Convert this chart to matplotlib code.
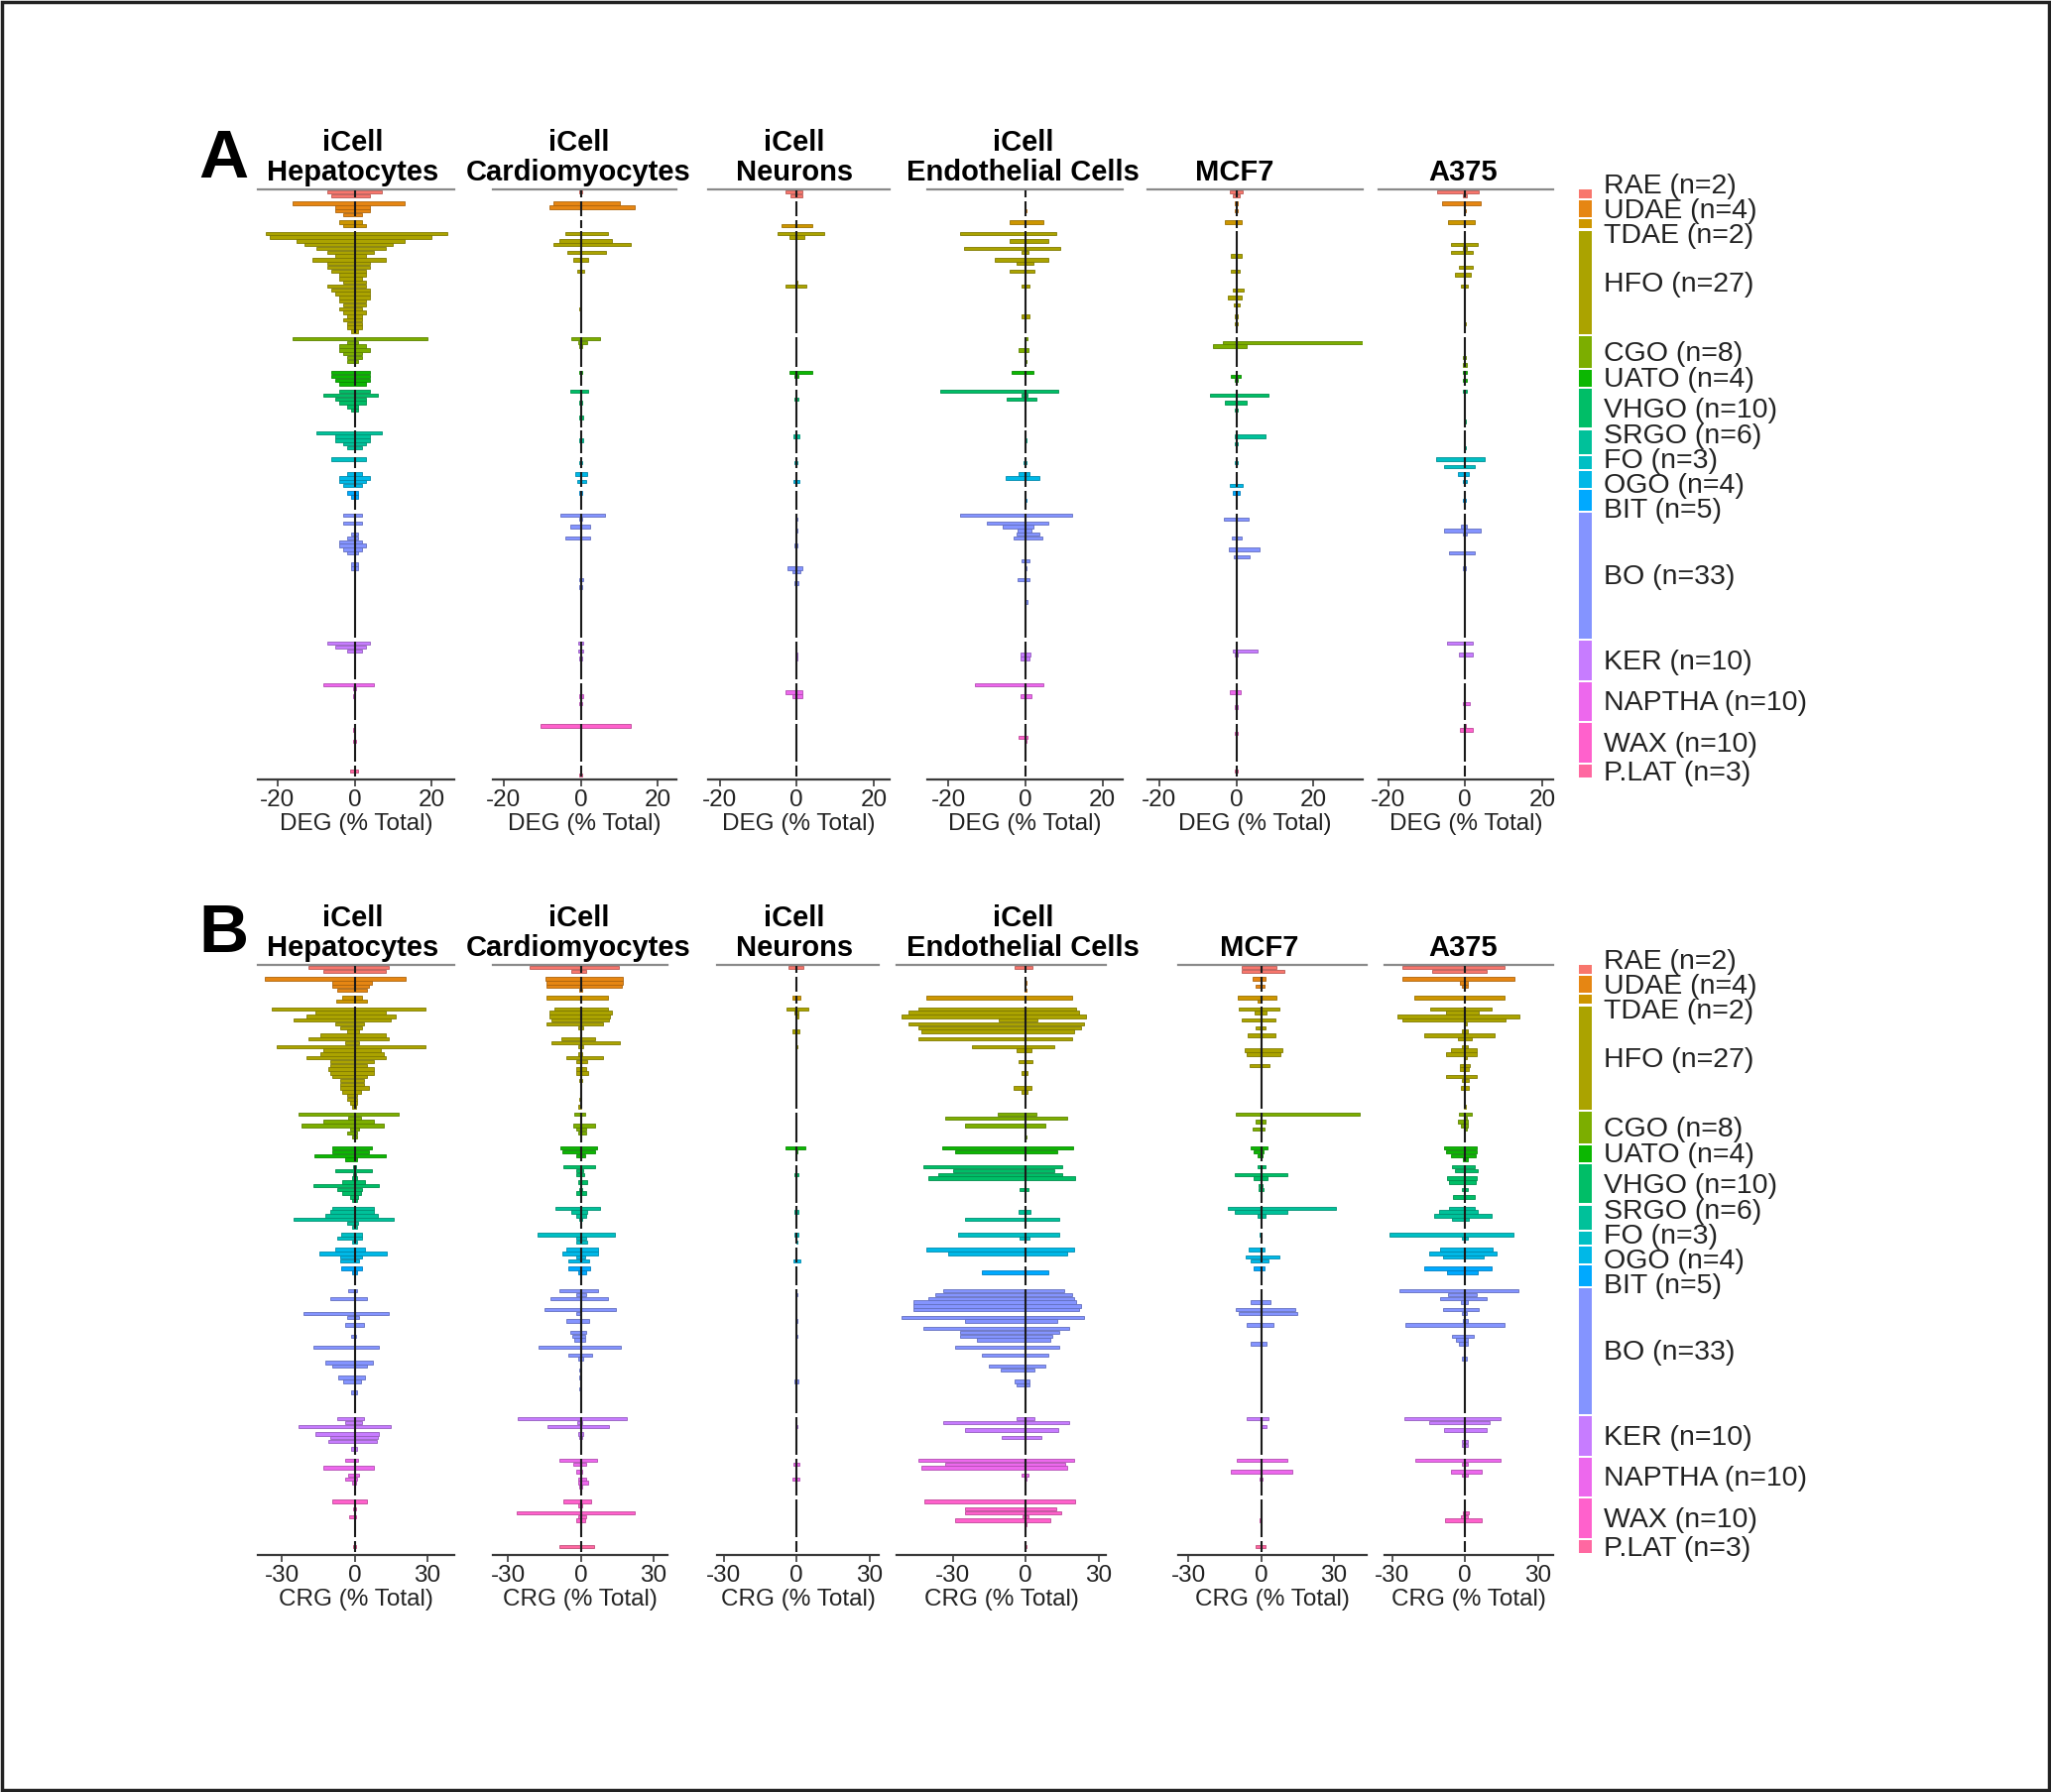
import numpy as np
import matplotlib
matplotlib.use("Agg")
import matplotlib.pyplot as plt
import matplotlib.transforms as mtransforms
from matplotlib.colors import to_rgb
from matplotlib.patches import Rectangle

plt.rcParams["font.family"] = ["Liberation Sans", "DejaVu Sans"]
plt.rcParams["axes.unicode_minus"] = False

# Groups of substances (top to bottom)
groups = ["RAE", "UDAE", "TDAE", "HFO", "CGO", "UATO", "VHGO", "SRGO", "FO",
          "OGO", "BIT", "BO", "KER", "NAPTHA", "WAX", "P.LAT"]
group_n = [2, 4, 2, 27, 8, 4, 10, 6, 3, 4, 5, 33, 10, 10, 10, 3]
group_colors = ["#F8766D", "#E68613", "#CD9600", "#ABA300", "#7CAE00", "#0CB702",
                "#00BE67", "#00C19A", "#00BFC4", "#00B8E7", "#00A9FF", "#8494FF",
                "#C77CFF", "#ED68ED", "#FF61CC", "#FF68A1"]

cell_titles = ["iCell\nHepatocytes", "iCell\nCardiomyocytes", "iCell\nNeurons",
               "iCell\nEndothelial Cells", "MCF7", "A375"]

# (down %, up %) per substance, one inner list per group; missing rows are 0
hep_deg = [[(7, 7), (6, 4)], [(16, 13), (5, 4), (5, 4), (3, 2)], [(4, 2), (3, 3)],
           [(23, 24), (22, 20), (15, 13), (13, 10), (10, 8), (7, 5), (5, 3), (11, 8), (7, 4), (7, 4),
            (6, 3), (4, 3), (4, 2), (3, 3), (7, 3), (6, 4), (5, 4), (4, 4), (4, 3), (3, 3),
            (4, 2), (3, 3), (2, 2), (3, 2), (2, 2), (2, 2), (1, 1)],
           [(16, 19), (2, 1), (4, 3), (4, 4), (3, 2), (2, 2), (2, 1)],
           [(6, 4), (6, 4), (5, 4), (4, 3)],
           [(4, 4), (8, 6), (5, 3), (4, 3), (2, 1), (1, 1)],
           [(10, 7), (5, 4), (5, 4), (3, 3), (2, 2)],
           [(6, 3)],
           [(2, 2), (4, 4), (4, 3), (3, 2)],
           [(2, 1), (1, 1)],
           [(3, 2), (0, 0), (3, 2), (0, 0), (0, 0), (1, 1), (2, 1), (4, 2), (4, 3), (3, 2), (2, 1),
            (0, 0), (0, 0), (1, 1), (1, 1)],
           [(7, 4), (5, 3), (2, 2)],
           [(8, 5), (0.3, 0.3), (0, 0), (0.3, 0)],
           [(0, 0), (0.5, 0), (0, 0), (0, 0), (0.3, 0.3)],
           [(0, 0), (1.2, 0.8)]]

cardio_deg = [[(0.5, 0.3)], [(7, 10), (8, 14)], [],
              [(4, 7), (0, 0), (5.5, 8), (7, 13), (0, 0), (3.5, 6.5), (0, 0), (2, 2), (0, 0), (0, 0),
               (1, 1), (0, 0), (0, 0), (0, 0), (0, 0), (0, 0), (0, 0), (0, 0), (0, 0), (0, 0), (0.5, 0.2)],
              [(2.5, 5), (0.6, 1.7), (0.3, 0.3)],
              [(0.3, 0.3)],
              [(2.6, 1.9), (0, 0), (0, 0), (0.3, 0.3), (0, 0), (0, 0), (0, 0), (0.3, 0.5)],
              [(0, 0), (0, 0), (0.5, 0.5)],
              [(0, 0), (0.3, 0.3)],
              [(1.4, 1.6), (0, 0), (1, 1.5)],
              [(0.3, 0.3)],
              [(5.2, 6.2), (0.5, 0.3), (0, 0), (2.8, 2.3), (0, 0), (0, 0), (4.1, 2.5), (0, 0), (0, 0),
               (0, 0), (0, 0), (0, 0), (0, 0), (0, 0), (0, 0), (0, 0), (0, 0), (0.5, 0.5), (0, 0), (0.3, 0.3)],
              [(0.7, 0.5), (0, 0), (0.7, 0.5), (0, 0), (0.3, 0.3)],
              [(0, 0), (0, 0), (0, 0), (0.5, 0.5), (0, 0), (0.3, 0.3)],
              [(10.5, 13)],
              [(0, 0), (0, 0), (0.3, 0.3)]]

neuro_deg = [[(2.8, 1.4), (1.5, 1.5)], [], [(0, 0), (4, 4)],
             [(5, 7), (2, 2), (0, 0), (0, 0), (0, 0), (0, 0), (0, 0), (0, 0), (0, 0), (0, 0),
              (0, 0), (0, 0), (0, 0), (0.3, 0.3), (3, 2.5)],
             [],
             [(2, 4), (0.5, 0.5)],
             [(0, 0), (0, 0), (0.7, 0.4)],
             [(0, 0), (0.8, 0.8)],
             [(0, 0), (0.5, 0.3)],
             [(0, 0), (0, 0), (0.8, 0.8)],
             [],
             [(0, 0), (0.3, 0.3), (0, 0), (0, 0), (0.4, 0.3), (0, 0), (0, 0), (0, 0), (0.5, 0.2), (0, 0),
              (0, 0), (0, 0), (0, 0), (0, 0), (2.4, 1.4), (1, 1), (0, 0), (0, 0), (0.5, 0.5)],
             [(0, 0), (0, 0), (0, 0), (0.3, 0.3), (0.3, 0.2)],
             [(0, 0), (0, 0), (2.8, 1.4), (1, 1.4)],
             [], []]

endo_deg = [[], [(0, 0), (0, 0), (0.3, 0.3)], [(4, 4.5)],
            [(17, 8), (0, 0), (4, 6), (0, 0), (16, 9), (1, 0.8), (0, 0), (8, 6), (2.4, 2), (0, 0),
             (4, 2.3), (0, 0), (0, 0), (0, 0), (1, 1), (0, 0), (0, 0), (0, 0), (0, 0), (0, 0),
             (0, 0), (0, 0), (1, 1)],
            [(0.3, 0.5), (0, 0), (0, 0), (1.9, 0.8), (0, 0), (0, 0), (0.3, 0.3)],
            [(3.5, 2)],
            [(22, 8.5), (1, 0.5), (5, 2.7)],
            [(0, 0), (0, 0), (0.3, 0.3)],
            [(0, 0), (0.5, 0.3)],
            [(1.8, 1.0), (5.2, 3.5)],
            [(0, 0), (0, 0), (0.3, 0.3)],
            [(17, 12), (0, 0), (10, 6), (6, 2), (2, 1.5), (2.2, 3.5), (3, 4.3), (0, 0), (0, 0), (0, 0),
             (0, 0), (0, 0), (1, 1), (0, 0), (0.3, 0.3), (0, 0), (0, 0), (2, 1), (0, 0), (0, 0),
             (0, 0), (0, 0), (0, 0), (0.3, 0.5)],
            [(0, 0), (0, 0), (0, 0), (1.4, 1.4), (1.4, 1.1)],
            [(13.2, 4.7), (0, 0), (0, 0), (1.4, 1.6)],
            [(0, 0), (0, 0), (0, 0), (1.8, 0.5), (0.3, 0.3)],
            []]

mcf7_deg = [[(1.7, 1.7), (1, 1)], [(0.3, 0.3), (0, 0), (0.3, 0.3)], [(3, 1.5)],
            [(0, 0), (0, 0), (0, 0), (0, 0), (0, 0), (0, 0), (1.5, 1.5), (0, 0), (0, 0), (0, 0),
             (1.5, 0.9), (0, 0), (0, 0), (0, 0), (0, 0), (0.9, 1.8), (0, 0), (2.3, 1.3), (0, 0), (0.6, 0.9),
             (0, 0), (0, 0), (0.3, 0.3), (0, 0), (0.3, 0.3)],
            [(0, 0), (3.5, 33), (6, 2.6)],
            [(0, 0), (1.5, 1.1), (0.5, 0.5)],
            [(0, 0), (6.8, 8.4), (0, 0), (2.9, 2.6), (0, 0), (0.3, 0.3)],
            [(0, 0), (0.3, 7.6), (0, 0), (0.3, 0.3)],
            [(0, 0), (0.3, 0.3)],
            [(0, 0), (0, 0), (0, 0), (1.7, 1.7)],
            [(1, 1)],
            [(0, 0), (3.3, 3.2), (0, 0), (0, 0), (0, 0), (0, 0), (1.1, 1.3), (0, 0), (0, 0), (2, 6.1),
             (0, 0), (0.7, 3.5)],
            [(0, 0), (0, 0), (0.9, 5.5), (0.3, 0.3)],
            [(0, 0), (0, 0), (1.7, 1.1), (0, 0), (0, 0), (0, 0), (0.3, 0.3)],
            [(0, 0), (0, 0), (0.3, 0.3)],
            [(0, 0), (0.5, 0.3)]]

a375_deg = [[(7.3, 3.4), (0.5, 0.5)], [(6, 4), (0, 0), (0.3, 0.2)], [(4.5, 2.6)],
            [(0, 0), (0, 0), (0, 0), (3.8, 3.2), (0.5, 0.5), (3.6, 2.1), (0, 0), (0, 0), (0, 0), (1.7, 1.9),
             (0, 0), (2.6, 1.5), (0, 0), (0, 0), (1, 0.7), (0, 0), (0, 0), (0, 0), (0, 0), (0, 0),
             (0, 0), (0, 0), (0, 0), (0, 0), (0.3, 0.3)],
            [(0, 0), (0, 0), (0, 0), (0, 0), (0, 0), (0.5, 0.3), (0, 0), (0.7, 0.5)],
            [(0.5, 0.5), (0, 0), (0.5, 0.5)],
            [(0.5, 0.5), (0, 0), (0, 0), (0, 0), (0, 0), (0, 0), (0, 0), (0, 0), (0.3, 0.3)],
            [(0, 0), (0, 0), (0, 0), (0, 0), (0.3, 0.3)],
            [(7.5, 5), (0, 0), (5.5, 2.5)],
            [(2, 1), (0, 0), (0.5, 0.5)],
            [(0, 0), (0, 0), (0.5, 0.3)],
            [(0, 0), (0, 0), (0, 0), (1, 0.4), (5.6, 4.1), (0.5, 0.5), (0, 0), (0, 0), (0, 0), (0, 0),
             (4.1, 2.6), (0, 0), (0, 0), (0, 0), (0.5, 0.3)],
            [(4.7, 1.9), (0, 0), (0, 0), (1.5, 1.9)],
            [(0, 0), (0, 0), (0, 0), (0, 0), (0, 0), (0.6, 1.3)],
            [(0.3, 0.3), (1.3, 1.9)],
            []]

hep_crg = [[(19, 14), (12.7, 12.7)], [(37, 21), (9, 7), (9, 6), (7, 5)], [(5, 3.2), (7.6, 5.3)],
           [(34, 29), (16, 13), (20, 17), (25, 15), (8, 4), (6, 3), (3, 2), (14, 13), (19, 14), (4, 2),
            (32, 29), (13, 11), (14, 12), (20, 13), (10, 8), (10, 5), (11, 8), (10, 8), (9, 5), (6, 4),
            (6, 4), (6, 6), (5, 2.5), (3, 1), (3, 1), (2, 1), (1, 0.5)],
           [(23, 18), (2.5, 2.5), (13, 8), (22, 12), (2, 2), (3, 1), (1, 1)],
           [(9, 7), (9, 6), (16.5, 12.7), (4, 1)],
           [(0.5, 0.5), (8, 7), (0.5, 0.5), (1, 1), (5, 4.4), (17, 10), (7, 3), (5, 2.5), (2, 1.5), (1, 1)],
           [(9, 8), (10, 8), (12, 9.5), (25, 16), (3, 1.3), (1, 1)],
           [(5.7, 3.2), (7.3, 3.2), (1, 1)],
           [(8, 4.4), (14.6, 13.3), (6, 3), (6, 2)],
           [(5.7, 3.2), (1, 1)],
           [(2.5, 1), (0, 0), (10, 5), (0, 0), (0, 0), (0, 0), (21, 14), (3.2, 2), (0, 0), (3.8, 3.8),
            (0, 0), (0, 0), (1.5, 0.6), (0, 0), (0, 0), (17, 10), (0, 0), (0, 0), (0, 0), (12, 7.6),
            (9, 5), (0, 0), (0, 0), (6.6, 4.4), (4.8, 2.8), (0, 0), (0, 0), (1.5, 1)],
           [(7, 4), (4, 3), (23, 15), (0, 0), (16, 10), (10, 9.5), (11, 9), (0, 0), (1.3, 1)],
           [(4, 1.5), (0, 0), (13, 8), (0, 0), (2.5, 2), (4, 1), (1, 0.5)],
           [(9, 5), (0, 0), (0.5, 0.5), (0, 0), (2.3, 0.6)],
           [(0, 0), (0.5, 0.5)]]

cardio_crg = [[(21, 15.8), (4, 2.2)], [(14.5, 17.3), (14, 17.3), (14, 17), (0.5, 0.5)], [(14, 11)],
              [(11, 11), (13, 13), (13, 12), (12, 11.5), (14, 9), (1, 1), (0, 0), (0, 0), (8, 6), (12, 16),
               (1, 1), (0, 0), (1, 0.5), (6, 9), (2, 2.5), (0, 0), (2, 2), (2, 3), (0, 0), (0.5, 0.5),
               (0, 0), (0.3, 0.3), (0, 0), (0, 0), (0.5, 0.3), (0, 0), (1, 0.3)],
              [(2.7, 1.6), (0, 0), (0, 0), (3.3, 5.7), (1.7, 2.2), (1.2, 2)],
              [(8.3, 6.5), (7.4, 6), (2, 1.6)],
              [(7, 6), (1.7, 1), (1.7, 1.2), (0, 0), (1.2, 2.5), (0, 0), (0.5, 0.5), (2, 2)],
              [(10.4, 7.8), (4, 2.8), (2, 2.2), (0.5, 0.5)],
              [(17.8, 14), (2, 2.2), (2, 2.8)],
              [(5.8, 7), (7.7, 7), (2, 1.6), (5, 3.5)],
              [(5, 4), (1.2, 2.2)],
              [(9, 7.2), (2, 2.2), (12.6, 11), (0, 0), (0, 0), (15, 14.6), (2, 0), (0, 0), (5.8, 3.5), (0, 0),
               (0, 0), (4.2, 2.2), (3.7, 1.6), (2.5, 1.6), (0, 0), (17.3, 16.4), (0, 0), (5, 4.7), (1.2, 1), (0, 0),
               (0, 0), (0.5, 0.3), (0, 0), (0.5, 0.3), (0, 0), (0, 0), (0.5, 0.3)],
              [(26, 19), (1.5, 0.5), (13.8, 11.5), (0, 0), (1, 1), (0.5, 0.5)],
              [(8.9, 6.5), (3.3, 2.2), (0, 0), (2, 0.7), (0, 0), (1.2, 2), (0.9, 3.2), (0.5, 0.5)],
              [(7, 4.4), (0.9, 0.4), (0, 0), (26.4, 22), (1.2, 2), (1.7, 1.6)],
              [(0, 0), (8.9, 5.3)]]

neuro_crg = [[(3.2, 2.6)], [], [(1.9, 1.5)],
             [(4.1, 4.9), (0.8, 0.5), (0.5, 0.5), (0, 0), (0, 0), (0, 0), (1.9, 1), (0, 0), (0, 0), (0, 0),
              (0.5, 0.3)],
             [],
             [(4.5, 3.6), (0.3, 0.3)],
             [(0, 0), (0, 0), (0.8, 0.5)],
             [(0, 0), (1, 0.8)],
             [(1, 0.8), (0, 0), (0.3, 0.3)],
             [(0, 0), (0, 0), (0, 0), (1.5, 1.5)],
             [],
             [(0, 0), (0.3, 0.3), (0, 0), (0, 0), (0, 0), (0, 0), (0, 0), (0, 0), (0.3, 0.3), (0, 0),
              (0, 0), (0, 0), (0.3, 0.3), (0, 0), (0, 0), (0, 0), (0, 0), (0, 0), (0, 0), (0, 0),
              (0, 0), (0, 0), (0, 0), (0, 0), (0.8, 0.5)],
             [(0, 0), (0, 0), (0.3, 0.3)],
             [(0, 0), (1.3, 1), (0, 0), (0, 0), (0, 0), (1.7, 1)],
             [], []]

endo_crg = [[(4.4, 2.9)], [(0, 0), (0.3, 0.3), (0, 0), (0.3, 0.3)], [(40.7, 19.2)],
            [(44, 21), (48, 22), (51, 25), (11, 5), (48, 24), (44, 23), (43, 20), (0, 0), (44, 19), (0, 0),
             (22, 12), (3.5, 2.3), (0, 0), (0, 0), (3, 2.7), (0, 0), (0, 0), (1.5, 1), (0, 0), (0, 0),
             (0, 0), (5, 2.3), (1.5, 1)],
            [(11.5, 4.5), (33, 17), (0, 0), (25, 8), (0, 0), (0, 0), (0.3, 0.3)],
            [(34.4, 19.6), (29, 13)],
            [(42, 15), (30, 12), (36, 15), (40, 20.5), (0, 0), (0, 0), (2.4, 1.3)],
            [(0, 0), (3, 2), (0, 0), (25, 14)],
            [(27.7, 14), (2.4, 1.6)],
            [(41, 20), (32, 17)],
            [(0, 0), (18, 9.3)],
            [(34, 16), (37, 19), (40, 20), (46, 21), (46, 23), (46, 22), (0, 0), (51, 24), (25, 13), (0, 0),
             (42, 18), (27, 14), (27, 11), (20, 10), (0, 0), (29, 14), (0, 0), (18, 9.3), (0, 0), (0, 0),
             (15, 8.3), (10.4, 3.6), (0, 0), (0, 0), (4.4, 1.6), (3.5, 1.6)],
            [(3.7, 3.6), (34, 18), (0, 0), (25, 13.6), (0, 0), (9.7, 6.7)],
            [(44, 20), (33, 16.4), (42.7, 17.3), (0, 0), (1.7, 1.3), (0.5, 0.5)],
            [(41.7, 20.3), (0, 0), (25, 12.5), (25, 14.7), (1.3, 1.3), (29, 10.3), (0.3, 0.3)],
            [(0, 0), (0.3, 0.3)]]

mcf7_crg = [[(8, 6.2), (8, 9.5)], [(3.5, 2), (0, 0), (2.2, 1.3)], [(9.6, 6.2), (1.5, 0.3)],
            [(9, 7.5), (2.8, 2.3), (0, 0), (7.8, 6), (0, 0), (2.2, 1.7), (0, 0), (5.7, 6), (0, 0), (0, 0),
             (0, 0), (6.7, 8.8), (6, 7.8), (0, 0), (0, 0), (4.8, 3.4)],
            [(10.6, 40.6), (0, 0), (2.2, 2), (0, 0), (3.5, 1.3)],
            [(4.2, 2.6), (2.9, 1), (1.6, 0.8)],
            [(1.6, 1.7), (0, 0), (11, 10.8), (2.9, 2.6), (0, 0), (0.9, 0.8), (0.9, 1)],
            [(13.5, 31), (11, 10.8), (1.6, 2)],
            [(0.5, 0.3)],
            [(5.2, 1.3), (0, 0), (6.5, 7.5), (4.4, 3)],
            [(2.9, 1.3)],
            [(0, 0), (0, 0), (0, 0), (4.4, 3.9), (0, 0), (10.4, 14), (9, 14.7), (0, 0), (0, 0), (6.1, 4.9),
             (0, 0), (0, 0), (0, 0), (0, 0), (4.2, 2.3)],
            [(6.1, 3), (0, 0), (0.3, 2.3)],
            [(10, 10.8), (0, 0), (0, 0), (12.6, 13), (0, 0), (0.5, 0.8)],
            [(0, 0), (0, 0), (0, 0), (0, 0), (0, 0), (0.5, 0.3)],
            [(0, 0), (2.2, 1.7)]]

a375_crg = [[(26, 16), (13.4, 8.8)], [(25.8, 20.4), (2.2, 1.3), (1.5, 1.3)], [(21, 16)],
            [(14.5, 10.7), (8, 5.5), (28, 22.3), (26, 16.5), (0.5, 0.5), (0, 0), (1.5, 1.3), (17, 12), (2.8, 2.6), (0, 0),
             (1.5, 1.3), (6, 4.6), (7.7, 4.9), (0.5, 0.5), (0, 0), (2.2, 2), (2.2, 1.7), (0, 0), (7.7, 4.6), (1.5, 1.7),
             (0, 0), (1.8, 1.7), (0, 0), (0, 0), (0, 0), (0, 0), (0.5, 0.3)],
            [(2.6, 2.6), (0.5, 0.5), (3.1, 1.3), (1.8, 1.3), (0.5, 0.5)],
            [(8.6, 4.6), (7.7, 4.9), (5.7, 4.2), (1, 1.3)],
            [(5.4, 3.9), (4.4, 5.2), (0, 0), (7.4, 4.9), (6.7, 4.2), (0, 0), (1.2, 1.3), (0, 0), (5.2, 3.9)],
            [(6.7, 3.9), (10.8, 5.2), (12.9, 10.7), (5.4, 1.7)],
            [(31, 19.7), (1.5, 1.3)],
            [(10.3, 11.4), (14.7, 12.9), (9.3, 7.5)],
            [(16.8, 11), (7.4, 5.2)],
            [(27, 22), (7, 4.9), (10.3, 9), (1.8, 1.3), (0, 0), (9.3, 5.5), (1.2, 0.8), (0, 0), (1, 1.3), (24.5, 16.3),
             (0, 0), (0, 0), (5.4, 3.4), (3.9, 1.3), (2.6, 1.3), (0, 0), (0, 0), (0, 0), (1.5, 0.8)],
            [(25, 14.6), (15, 10), (0, 0), (8.6, 8.8), (0, 0), (0, 0), (1.5, 1.3), (1.5, 1.3)],
            [(20.6, 14.6), (1.5, 1.3), (0, 0), (5.7, 6.8), (1.5, 1.3)],
            [(0, 0), (0, 0), (0, 0), (1, 1.7), (1.8, 1.3), (8.3, 6.8)],
            []]

deg_panels = [hep_deg, cardio_deg, neuro_deg, endo_deg, mcf7_deg, a375_deg]
crg_panels = [hep_crg, cardio_crg, neuro_crg, endo_crg, mcf7_crg, a375_crg]

# ---- row layout: one row per substance, one empty row between groups ----
starts = []
pos = 0
for n in group_n:
    starts.append(pos)
    pos += n + 1
row_y = np.concatenate([np.arange(s, s + n) for s, n in zip(starts, group_n)])
row_col = sum([[c] * n for c, n in zip(group_colors, group_n)], [])
Y_LIM = (156.2, -0.7)


def expand(panel):
    dn, up = [], []
    for pairs, n in zip(panel, group_n):
        assert len(pairs) <= n
        pairs = list(pairs) + [(0, 0)] * (n - len(pairs))
        dn += [p[0] for p in pairs]
        up += [p[1] for p in pairs]
    return np.array(dn, float), np.array(up, float)


def darker(c, f=0.75):
    r, g, b = to_rgb(c)
    return (r * f, g * f, b * f)


W, H = 2068, 1807
fig = plt.figure(figsize=(W / 100, H / 100), dpi=100)


def px_axes(left, right, top, bottom):
    return fig.add_axes([left / W, 1 - bottom / H, (right - left) / W, (bottom - top) / H])


def draw_panel(ax, panel, xlim, ticks, xlabel, title):
    dn, up = expand(panel)
    keep = (dn + up) > 0
    cols = [c for c, k in zip(row_col, keep) if k]
    ax.barh(row_y[keep], (dn + up)[keep], left=-dn[keep], height=0.9,
            color=cols, edgecolor=[darker(c) for c in cols], linewidth=0.6, zorder=2)
    for s, n in zip(starts, group_n):
        ax.plot([0, 0], [s - 0.5, s + n - 0.5], color="#1a1a1a", lw=1.5,
                solid_capstyle="butt", zorder=3)
    ax.set_xlim(*xlim)
    ax.set_ylim(*Y_LIM)
    for side in ["left", "right"]:
        ax.spines[side].set_visible(False)
    ax.spines["top"].set_color("#8a8a8a")
    ax.spines["top"].set_linewidth(1.6)
    ax.spines["bottom"].set_color("#3a3a3a")
    ax.spines["bottom"].set_linewidth(1.6)
    ax.set_yticks([])
    ax.set_xticks(ticks)
    ax.tick_params(axis="x", length=5, width=1.2, color="#3a3a3a",
                   labelsize=17.5, labelcolor="#222222", pad=2)
    ax.set_xlabel(xlabel, fontsize=17.5, color="#222222", labelpad=2)
    trans = mtransforms.blended_transform_factory(ax.transData, ax.transAxes)
    ax.annotate(title, xy=(0, 1), xycoords=trans, xytext=(-1.5, 2.5), textcoords="offset points",
                ha="center", va="bottom", fontsize=21, fontweight="bold", linespacing=1.08)


def draw_legend(top, bottom):
    ax = px_axes(1592, 1605, top, bottom)
    for s, n, c in zip(starts, group_n, group_colors):
        ax.barh(s + (n - 1) / 2, 1, height=n + 0.4, left=0, color=c, linewidth=0)
    ax.set_xlim(0, 1)
    ax.set_ylim(*Y_LIM)
    ax.axis("off")
    ys = [s + (n - 1) / 2 for s, n in zip(starts, group_n)]
    for _ in range(300):
        for i in range(len(ys) - 1):
            d = ys[i + 1] - ys[i]
            if d < 6.6:
                ys[i] -= (6.6 - d) / 2
                ys[i + 1] += (6.6 - d) / 2
    tr = ax.get_yaxis_transform()
    for g, n, y in zip(groups, group_n, ys):
        ax.text(1.95, y + 0.5, f"{g} (n={n})", transform=tr, ha="left", va="center",
                fontsize=20.5, color="#222222")


# axes placement in pixels: (left, right, x=0 position)
layout_a = [(260, 458, 357.5), (497, 682, 585.6), (714, 897, 803.3),
            (935, 1132, 1034), (1157, 1374, 1246.5), (1390, 1566, 1477.3)]
layout_b = [(260, 458, 357.5), (497, 673, 585.6), (723, 886, 803.3),
            (904, 1115, 1034), (1188, 1378, 1271.5), (1396, 1566, 1477.3)]

for (l, r, z), panel, title in zip(layout_a, deg_panels, cell_titles):
    ax = px_axes(l, r, 191, 786)
    draw_panel(ax, panel, ((l - z) / 3.89, (r - z) / 3.89), [-20, 0, 20], "DEG (% Total)", title)

for (l, r, z), panel, title in zip(layout_b, crg_panels, cell_titles):
    ax = px_axes(l, r, 973, 1568)
    draw_panel(ax, panel, ((l - z) / 2.45, (r - z) / 2.45), [-30, 0, 30], "CRG (% Total)", title)

draw_legend(191, 786)
draw_legend(973, 1568)

fig.text(200 / W, 1 - 179 / H, "A", fontsize=50, fontweight="bold", ha="left", va="baseline")
fig.text(200 / W, 1 - 960 / H, "B", fontsize=50, fontweight="bold", ha="left", va="baseline")

fig.patches.append(Rectangle((0.001, 0.001), 0.998, 0.998, transform=fig.transFigure,
                             fill=False, edgecolor="#222222", linewidth=2.5))

fig.savefig("out.png", dpi=100)
